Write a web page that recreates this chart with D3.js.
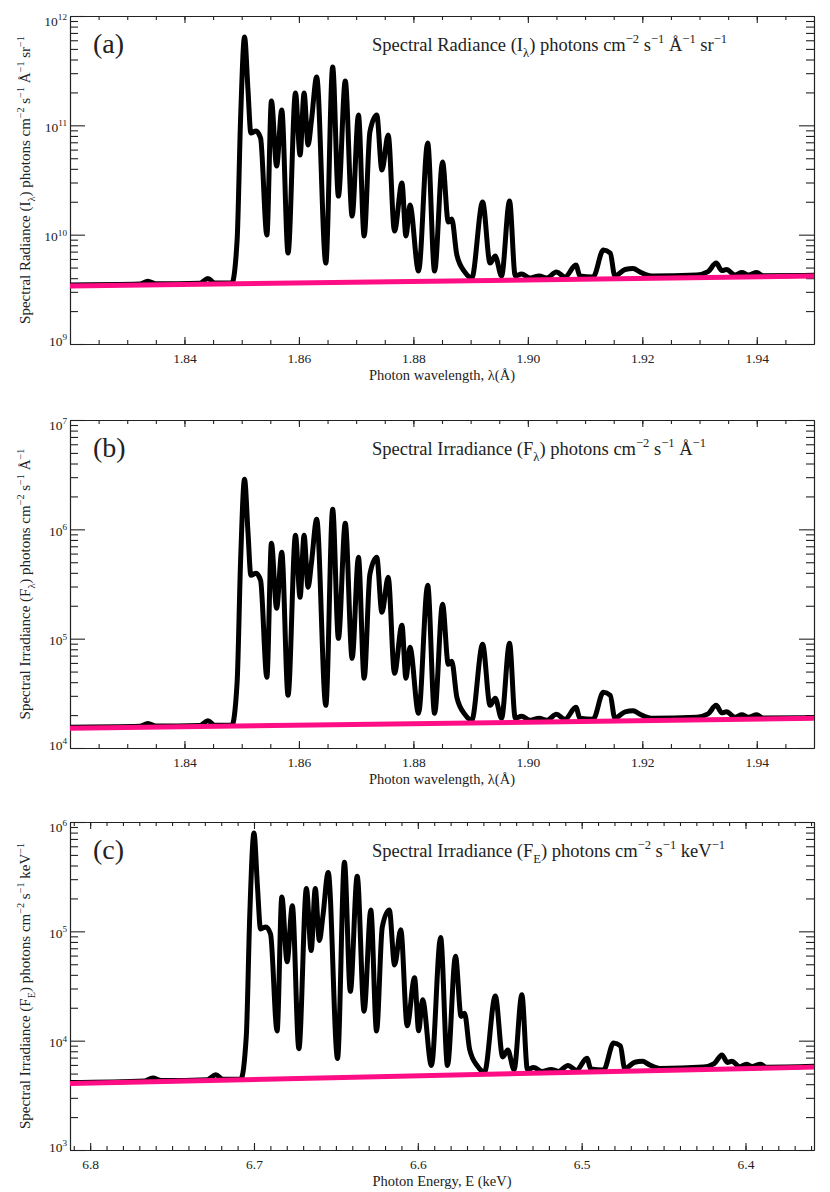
<!DOCTYPE html>
<html>
<head>
<meta charset="utf-8">
<script src="https://cdn.jsdelivr.net/npm/d3@7"></script>
<style>
body { margin: 0; background: #fff; }
text { font-family: "Liberation Serif", "Times New Roman", serif; fill: #222; }
</style>
</head>
<body>
<div id="chart"></div>
<script>

// spectrum: vertices (peaks, dips, shoulders) of the curve
var wavelength = [
  1.8200, 1.8322, 1.8336, 1.8350, 1.8427, 1.8441, 1.8453, 1.8483, 1.8492, 1.8498,
  1.8505, 1.8511, 1.8516, 1.8525, 1.8533, 1.8544, 1.8552, 1.8561, 1.8570, 1.8581,
  1.8594, 1.8602, 1.8609, 1.8616, 1.8622, 1.8631, 1.8647, 1.8659, 1.8669, 1.8681,
  1.8693, 1.8704, 1.8714, 1.8724, 1.8736, 1.8745, 1.8756, 1.8767, 1.8780, 1.8787,
  1.8794, 1.8809, 1.8825, 1.8837, 1.8851, 1.8861, 1.8867, 1.8876, 1.8890, 1.8902,
  1.8921, 1.8934, 1.8943, 1.8954, 1.8968, 1.8978, 1.8989, 1.9004, 1.9020, 1.9033,
  1.9050, 1.9065, 1.9084, 1.9091, 1.9114, 1.9132, 1.9144, 1.9152, 1.9170, 1.9184,
  1.9196, 1.9216, 1.9295, 1.9315, 1.9329, 1.9339, 1.9347, 1.9362, 1.9374, 1.9385,
  1.9400, 1.9411, 1.9500];

var energy = [
  6.8123, 6.7669, 6.7618, 6.7566, 6.7284, 6.7233, 6.7189, 6.7080, 6.7047, 6.7026,
  6.7000, 6.6979, 6.6960, 6.6928, 6.6899, 6.6859, 6.6830, 6.6798, 6.6766, 6.6726,
  6.6680, 6.6651, 6.6626, 6.6601, 6.6579, 6.6547, 6.6490, 6.6448, 6.6412, 6.6370,
  6.6328, 6.6287, 6.6252, 6.6217, 6.6174, 6.6142, 6.6104, 6.6065, 6.6020, 6.5995,
  6.5971, 6.5917, 6.5861, 6.5819, 6.5770, 6.5736, 6.5715, 6.5684, 6.5636, 6.5593,
  6.5527, 6.5482, 6.5451, 6.5413, 6.5365, 6.5331, 6.5293, 6.5241, 6.5186, 6.5142,
  6.5083, 6.5032, 6.4968, 6.4944, 6.4866, 6.4805, 6.4764, 6.4737, 6.4676, 6.4629,
  6.4589, 6.4521, 6.4257, 6.4191, 6.4144, 6.4111, 6.4084, 6.4035, 6.3995, 6.3960,
  6.3909, 6.3873, 6.3582];

// log10 of the values, read in decades off the log axes
var radianceLog = [
  9.540, 9.548, 9.575, 9.551, 9.556, 9.600, 9.558, 9.560, 9.951, 11.049,
  11.808, 11.323, 10.930, 10.948, 10.884, 9.996, 11.222, 10.628, 11.140, 9.832,
  11.296, 10.728, 11.296, 10.820, 11.049, 11.442, 9.740, 11.533, 10.353, 11.405,
  10.170, 11.094, 9.987, 10.939, 11.094, 10.591, 10.911, 10.033, 10.472, 9.987,
  10.271, 9.667, 10.838, 9.667, 10.664, 10.115, 10.143, 9.813, 9.658, 9.604,
  10.298, 9.740, 9.804, 9.622, 10.307, 9.622, 9.641, 9.604, 9.622, 9.604,
  9.658, 9.613, 9.722, 9.622, 9.613, 9.859, 9.832, 9.622, 9.681, 9.690,
  9.658, 9.622, 9.632, 9.662, 9.740, 9.672, 9.681, 9.632, 9.653, 9.632,
  9.653, 9.624, 9.628];

var irradianceLog = [
  4.190, 4.198, 4.225, 4.201, 4.206, 4.250, 4.208, 4.210, 4.601, 5.699,
  6.458, 5.973, 5.580, 5.598, 5.534, 4.646, 5.872, 5.278, 5.790, 4.482,
  5.946, 5.378, 5.946, 5.470, 5.699, 6.092, 4.390, 6.183, 5.003, 6.055,
  4.820, 5.744, 4.637, 5.589, 5.744, 5.241, 5.561, 4.683, 5.122, 4.637,
  4.921, 4.317, 5.488, 4.317, 5.314, 4.765, 4.793, 4.463, 4.308, 4.254,
  4.948, 4.390, 4.454, 4.272, 4.957, 4.272, 4.291, 4.254, 4.272, 4.254,
  4.308, 4.263, 4.372, 4.272, 4.263, 4.509, 4.482, 4.272, 4.331, 4.340,
  4.308, 4.272, 4.282, 4.312, 4.390, 4.322, 4.331, 4.282, 4.303, 4.282,
  4.303, 4.274, 4.278];

var irradianceELog = [
  3.617, 3.631, 3.658, 3.635, 3.643, 3.688, 3.647, 3.650, 4.041, 5.140,
  5.899, 5.414, 5.022, 5.040, 4.976, 4.089, 5.315, 4.722, 5.234, 3.927,
  5.391, 4.824, 5.392, 4.916, 5.145, 5.539, 3.838, 5.631, 4.452, 5.504,
  4.270, 5.194, 4.088, 5.040, 5.196, 4.693, 5.014, 4.136, 4.576, 4.091,
  4.375, 3.772, 4.944, 3.773, 4.771, 4.222, 4.251, 3.921, 3.767, 3.713,
  4.408, 3.851, 3.915, 3.734, 4.419, 3.735, 3.754, 3.718, 3.737, 3.719,
  3.774, 3.730, 3.840, 3.740, 3.732, 3.979, 3.952, 3.743, 3.803, 3.812,
  3.781, 3.746, 3.759, 3.790, 3.869, 3.801, 3.811, 3.762, 3.784, 3.764,
  3.785, 3.757, 3.765];

// pink continuum line (end points)
var contWavelength = [1.82, 1.95];
var contEnergy = [6.8123, 6.3582];
var contRadianceLog = [9.530, 9.621];
var contIrradianceLog = [4.180, 4.271];
var contIrradianceELog = [3.608, 3.758];

// tick labels
var wavelengthTicks = [1.84, 1.86, 1.88, 1.90, 1.92, 1.94];
var energyTicks = [6.8, 6.7, 6.6, 6.5, 6.4];

var margin = {left: 70, right: 16},
    width = 830 - margin.left - margin.right,
    height = 328;

var svg = d3.select("#chart").append("svg")
  .attr("width", 830)
  .attr("height", 1192)
  .style("background", "#fff");

// text with sub/superscripts, parts = [[text, ""|"sup"|"sub"], ...]
function richText(text, parts, size) {
  var shift = 0;
  parts.forEach(function(p) {
    var target = p[1] == "sup" ? -0.42 * size : (p[1] == "sub" ? 0.3 * size : 0);
    text.append("tspan")
      .attr("dy", target - shift)
      .style("font-size", (p[1] ? size * 0.68 : size) + "px")
      .text(p[0]);
    shift = target;
  });
}

var panels = [
  {top: 16, label: "(a)", xDomain: [1.82, 1.95], decades: [9, 12],
   xs: wavelength, ys: radianceLog, cx: contWavelength, cy: contRadianceLog,
   xTicks: wavelengthTicks, xMinor: d3.range(1.825, 1.95, 0.005), xFormat: d3.format(".2f"),
   title: [["Spectral Radiance (I", ""], ["λ", "sub"], [") photons cm", ""], ["−2", "sup"], [" s", ""], ["−1", "sup"], [" Å", ""], ["−1", "sup"], [" sr", ""], ["−1", "sup"]],
   xTitle: "Photon wavelength, λ(Å)"},
  {top: 420, label: "(b)", xDomain: [1.82, 1.95], decades: [4, 7],
   xs: wavelength, ys: irradianceLog, cx: contWavelength, cy: contIrradianceLog,
   xTicks: wavelengthTicks, xMinor: d3.range(1.825, 1.95, 0.005), xFormat: d3.format(".2f"),
   title: [["Spectral Irradiance (F", ""], ["λ", "sub"], [") photons cm", ""], ["−2", "sup"], [" s", ""], ["−1", "sup"], [" Å", ""], ["−1", "sup"]],
   xTitle: "Photon wavelength, λ(Å)"},
  {top: 822, label: "(c)", xDomain: [6.8123, 6.3582], decades: [3, 6],
   xs: energy, ys: irradianceELog, cx: contEnergy, cy: contIrradianceELog,
   xTicks: energyTicks, xMinor: d3.range(6.36, 6.815, 0.01), xFormat: d3.format(".1f"),
   title: [["Spectral Irradiance (F", ""], ["E", "sub"], [") photons cm", ""], ["−2", "sup"], [" s", ""], ["−1", "sup"], [" keV", ""], ["−1", "sup"]],
   xTitle: "Photon Energy, E (keV)"}
];

panels.forEach(drawPanel);

function drawPanel(p) {
  var g = svg.append("g")
    .attr("transform", "translate(" + margin.left + "," + p.top + ")");

  var x = d3.scaleLinear().domain(p.xDomain).range([0, width]);
  var y = d3.scaleLog()
    .domain([Math.pow(10, p.decades[0]), Math.pow(10, p.decades[1])])
    .range([height, 0]);

  var majors = d3.range(p.decades[0], p.decades[1] + 1).map(function(e) { return Math.pow(10, e); });
  var minors = [];
  for (var e = p.decades[0]; e < p.decades[1]; e++)
    for (var m = 2; m < 10; m++) minors.push(m * Math.pow(10, e));

  // minor ticks on all four sides
  g.append("g").attr("class", "axis")
    .call(d3.axisLeft(y).tickValues(minors).tickSize(-8).tickSizeOuter(0).tickFormat(""));
  g.append("g").attr("class", "axis")
    .attr("transform", "translate(" + width + ",0)")
    .call(d3.axisRight(y).tickValues(minors).tickSize(-8).tickSizeOuter(0).tickFormat(""));
  g.append("g").attr("class", "axis")
    .attr("transform", "translate(0," + height + ")")
    .call(d3.axisBottom(x).tickValues(p.xMinor).tickSize(-4).tickSizeOuter(0).tickFormat(""));
  g.append("g").attr("class", "axis")
    .call(d3.axisTop(x).tickValues(p.xMinor).tickSize(-4).tickSizeOuter(0).tickFormat(""));

  // major ticks
  var yAxis = g.append("g").attr("class", "axis")
    .call(d3.axisLeft(y).tickValues(majors).tickSize(-15).tickSizeOuter(0).tickPadding(3));
  g.append("g").attr("class", "axis")
    .attr("transform", "translate(" + width + ",0)")
    .call(d3.axisRight(y).tickValues(majors).tickSize(-15).tickSizeOuter(0).tickFormat(""));
  g.append("g").attr("class", "axis xlab")
    .attr("transform", "translate(0," + height + ")")
    .call(d3.axisBottom(x).tickValues(p.xTicks).tickSize(-7).tickSizeOuter(0).tickPadding(9).tickFormat(p.xFormat));
  g.append("g").attr("class", "axis")
    .call(d3.axisTop(x).tickValues(p.xTicks).tickSize(-7).tickSizeOuter(0).tickFormat(""));

  g.selectAll(".axis path, .axis line")
    .attr("stroke", "#222")
    .attr("stroke-width", 1.1);
  g.selectAll(".axis text")
    .attr("fill", "#222")
    .style("font-family", "'Liberation Serif', serif")
    .style("font-size", "13.5px");

  // y tick labels as 10 with exponent
  yAxis.selectAll(".tick text")
    .text("")
    .attr("dy", null)
    .attr("y", function(d, i) { return i == 0 ? 1 : (i == majors.length - 1 ? 9 : 6); })
    .each(function(d) {
      richText(d3.select(this), [["10", ""], [String(Math.round(Math.log10(d))), "sup"]], 13.5);
    });

  // spectrum
  var line = d3.line()
    .x(function(d) { return x(d[0]); })
    .y(function(d) { return y(Math.pow(10, d[1])); })
    .curve(d3.curveMonotoneX);

  g.append("path")
    .datum(d3.zip(p.xs, p.ys))
    .attr("fill", "none")
    .attr("stroke", "#000")
    .attr("stroke-width", 5)
    .attr("stroke-linejoin", "round")
    .attr("d", line);

  g.append("path")
    .datum(d3.zip(p.cx, p.cy))
    .attr("fill", "none")
    .attr("stroke", "#ff0d85")
    .attr("stroke-width", 5)
    .attr("d", d3.line()
      .x(function(d) { return x(d[0]); })
      .y(function(d) { return y(Math.pow(10, d[1])); }));

  // panel letter and title
  g.append("text")
    .attr("x", 23)
    .attr("y", 37)
    .style("font-size", "28px")
    .text(p.label);

  richText(g.append("text").attr("x", 302).attr("y", 35), p.title, 18.5);

  // axis titles
  g.append("text")
    .attr("x", width / 2)
    .attr("y", height + 35.5)
    .attr("text-anchor", "middle")
    .style("font-size", "14.5px")
    .text(p.xTitle);

  richText(g.append("text")
    .attr("text-anchor", "middle")
    .attr("transform", "translate(-40," + (height / 2) + ") rotate(-90)"), p.title, 15);
}

</script>
</body>
</html>
